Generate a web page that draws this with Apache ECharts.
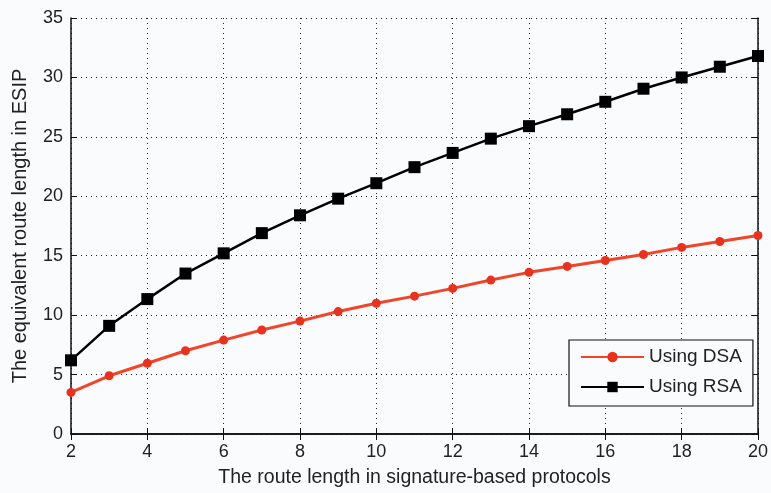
<!DOCTYPE html>
<html><head><meta charset="utf-8">
<script src="https://cdn.jsdelivr.net/npm/echarts@6/dist/echarts.min.js"></script>
<style>html,body{margin:0;padding:0;background:#fafbfd}#c{width:771px;height:493px}</style>
</head><body><div id="c"></div>
<script>
const xValues = [2,3,4,5,6,7,8,9,10,11,12,13,14,15,16,17,18,19,20];
const dsaValues = [3.5,4.9,5.95,7.0,7.9,8.75,9.5,10.3,11.0,11.6,12.25,12.95,13.6,14.1,14.6,15.1,15.7,16.2,16.7];
const rsaValues = [6.2,9.1,11.35,13.5,15.2,16.9,18.4,19.8,21.1,22.45,23.65,24.85,25.9,26.9,27.95,29.05,30.0,30.9,31.8];
const xTicks = [2,4,6,8,10,12,14,16,18,20];
const yTicks = [0,5,10,15,20,25,30,35];
const seriesNames = ['Using DSA','Using RSA'];

const font = 'Liberation Sans, Arial, sans-serif';
const chart = echarts.init(document.getElementById('c'));
const pair = (ys) => xValues.map((x,i)=>[x, ys[i]]);
const gridLine = {show:true, lineStyle:{color:'#222', type:[1,4], width:1}};
chart.setOption({
  backgroundColor:'#fafbfd',
  animation:false,
  grid:{left:71, right:3, top:18, bottom:59},
  xAxis:[{
    type:'value', min:xTicks[0], max:xTicks[xTicks.length-1], interval:2,
    axisLine:{show:true, lineStyle:{color:'#111', width:1.5}},
    axisTick:{show:true, inside:true, length:6, lineStyle:{color:'#111'}},
    axisLabel:{color:'#222', fontSize:18, fontFamily:font, margin:9},
    splitLine:gridLine,
    name:'The route length in signature-based protocols', nameLocation:'middle', nameGap:34,
    nameTextStyle:{color:'#222', fontSize:19.5, fontFamily:font}
  },{
    type:'value', position:'top', min:2, max:20, interval:2,
    axisLine:{show:true, lineStyle:{color:'#111', width:1.5}},
    axisTick:{show:true, inside:true, length:6, lineStyle:{color:'#111'}},
    axisLabel:{show:false}, splitLine:{show:false}
  }],
  yAxis:[{
    type:'value', min:yTicks[0], max:yTicks[yTicks.length-1], interval:5,
    axisLine:{show:true, lineStyle:{color:'#111', width:1.5}},
    axisTick:{show:true, inside:true, length:6, lineStyle:{color:'#111'}},
    axisLabel:{color:'#222', fontSize:18, fontFamily:font, margin:8},
    splitLine:gridLine,
    name:'The equivalent route length in ESIP', nameLocation:'middle', nameGap:41,
    nameTextStyle:{color:'#222', fontSize:20, fontFamily:font}
  },{
    type:'value', position:'right', min:0, max:35, interval:5,
    axisLine:{show:true, lineStyle:{color:'#111', width:1.5}},
    axisTick:{show:true, inside:true, length:6, lineStyle:{color:'#111'}},
    axisLabel:{show:false}, splitLine:{show:false}
  }],
  legend:{
    left:569, top:340, orient:'vertical',
    backgroundColor:'#fafbfd', borderColor:'#111', borderWidth:1.2,
    padding:[7,11,9,11], itemGap:10, itemWidth:63, itemHeight:13,
    textStyle:{color:'#222', fontSize:19, fontFamily:font, lineHeight:20},
    data:seriesNames
  },
  series:[{
    name:seriesNames[0], type:'line', data:pair(dsaValues),
    symbol:'circle', symbolSize:9,
    lineStyle:{color:'#f0452a', width:3},
    itemStyle:{color:'#e8321f'}
  },{
    name:seriesNames[1], type:'line', data:pair(rsaValues),
    symbol:'rect', symbolSize:12,
    lineStyle:{color:'#000', width:2.5},
    itemStyle:{color:'#000'}
  }]
});
</script></body></html>
